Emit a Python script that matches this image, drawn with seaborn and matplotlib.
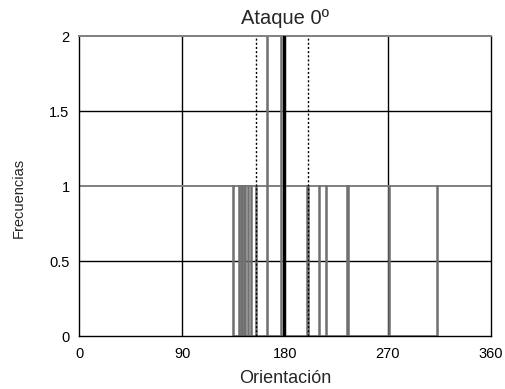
import matplotlib
matplotlib.use("Agg")
import matplotlib.pyplot as plt
import seaborn as sns
import pandas as pd

# Data
orient_freq1 = [135, 140, 142, 143, 145, 148, 151, 155, 200, 210, 216, 235, 271, 313]
orient_freq2 = [165, 177]
mean_angle = 178.7
dotted_angles = [155, 200.3]
x_ticks = [0, 90, 180, 270, 360]
y_ticks = [0, 0.5, 1, 1.5, 2]
y_tick_labels = ["0", "0.5", "1", "1.5", "2"]

orientations = orient_freq1 + orient_freq2 + orient_freq2
df = pd.DataFrame({"Orientación": orientations})

sns.set_style("white")
plt.rcParams["font.family"] = ["Liberation Sans", "DejaVu Sans"]

fig = plt.figure(figsize=(5.05, 3.89), dpi=100)
ax = fig.add_axes([0.157, 0.136, 0.815, 0.771])

# grid lines (black)
for gx in [90, 180, 270]:
    ax.axvline(gx, color="black", lw=1.0, zorder=0)
for gy in [0.5, 1.5]:
    ax.axhline(gy, color="black", lw=1.0, zorder=0)
ax.axhline(1.0, color="#808080", lw=1.4, zorder=0)

sns.histplot(data=df, x="Orientación", discrete=True, stat="count",
             color="#707070", edgecolor="#707070", linewidth=1.1,
             alpha=1.0, ax=ax, zorder=2)

for d in dotted_angles:
    ax.axvline(d, color="black", lw=1.0, ls=(0, (1.5, 1.5)), zorder=3)
ax.axvline(mean_angle, color="black", lw=2.2, zorder=3)

ax.set_xlim(0, 360)
ax.set_ylim(0, 2)
ax.set_xticks(x_ticks)
ax.set_xticklabels([str(t) for t in x_ticks], fontsize=10.5)
ax.set_yticks(y_ticks)
ax.set_yticklabels(y_tick_labels, fontsize=10.5)
ax.tick_params(axis="both", direction="out", length=5, width=1, colors="black",
               labelcolor="black", pad=3)
ax.tick_params(axis="y", direction="inout", length=8)

for side in ["left", "right", "bottom"]:
    ax.spines[side].set_color("black")
    ax.spines[side].set_linewidth(1.0)
ax.spines["top"].set_color("#808080")
ax.spines["top"].set_linewidth(1.4)

ax.set_title("Ataque 0º", fontsize=14.5, pad=9)
ax.set_xlabel("Orientación", fontsize=13, labelpad=6)
ax.set_ylabel("Frecuencias", fontsize=10.5, labelpad=14)
ax.yaxis.set_label_coords(-0.13, 0.46)

fig.savefig("out.png", dpi=100)
